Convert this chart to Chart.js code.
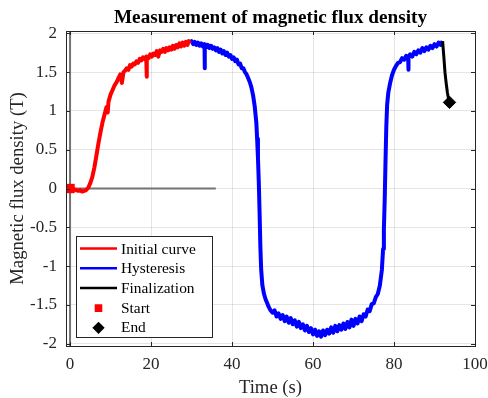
<!DOCTYPE html>
<html><head><meta charset="utf-8">
<script src="https://cdn.jsdelivr.net/npm/chart.js@4.4.1/dist/chart.umd.min.js"></script>
<style>
html,body{margin:0;padding:0;background:#fff;}
#wrap{position:relative;width:488px;height:398px;}
</style></head><body>
<div id="wrap"><canvas id="c"></canvas></div>
<script>
// time (s) / flux density (T)
const initTime = [0,0.5,1,1.5,2,2.5,3,3.5,4,4.5, 5,5.5,6,6.5,7,7.5,8,8.5,9,9.3, 9.5,10,10.5,11,11.5,12,12.4,12.8,13.2,13.6,
  14,14.4,14.8,15.2,15.6,16,16.4,16.8,17.2,17.6, 18,18.4,18.8,18.9,19,19.4,19.8,20.2,20.6,21, 21.4,21.8,22.2,22.6,23,23.4,23.8,24.2,24.6,25,
  25.4,25.8,26.2,26.6,27,27.4,27.8,28.2,28.6,29, 29.3,29.6];
const initFlux = [0,0.01,-0.01,-0.02,-0.03,-0.02,-0.04,-0.03,-0.02,0.01, 0.07,0.15,0.27,0.42,0.58,0.72,0.85,0.95,1.05,0.98, 1.12,1.21,1.27,1.33,1.37,1.43,1.47,1.36,1.50,1.52,
  1.55,1.53,1.59,1.57,1.61,1.60,1.64,1.62,1.67,1.65, 1.69,1.67,1.70,1.44,1.70,1.68,1.73,1.70,1.74,1.72, 1.77,1.70,1.78,1.76,1.80,1.76,1.81,1.78,1.82,1.79,
  1.84,1.80,1.85,1.82,1.87,1.83,1.88,1.84,1.89,1.85, 1.90,1.87];

const hystTime = [
  29.6,30,30.4,30.8,31.2,31.6,32,32.4,32.8,33.2, 33.25,33.3,33.6,34,34.4,34.8,35.2,35.6,36,36.4, 36.8,37.2,37.6,38,38.4,38.8,39.2,39.6,40,40.4, 40.8,41.2,41.6,42,42.4,42.8,43.2,43.6,44,44.4, 44.8,45.2,45.6,
  46,46.2,46.4,46.6,46.8,47,47.2,47.5,47.9,48.3,48.7,49,
  49.5,50,50.5,51,51.5,52,52.5,53,53.5,54, 54.5,55,55.5,56,56.5,57,57.5,58,58.5,59, 59.5,60,60.5,61,61.5,62,62.5,63,63.5,64, 64.5,65,65.5,66,66.5,67,67.5,68,68.5,69, 69.5,70,70.5,71,71.5,72,72.5,73,73.5,74, 74.5,75,75.5,76,76.5,
  77,77.3,77.5,77.7,77.9,78.1,78.3,78.6,79,79.5,80,80.5,
  81,81.5,82,82.5,83,83.5,83.55,83.6,84,84.5, 85,85.5,86,86.5,87,87.5,88,88.5,89,89.5, 90,90.5,91,91.5,92];
const hystFlux = [
  1.88,1.90,1.86,1.89,1.85,1.88,1.84,1.87,1.83,1.86, 1.55,1.85,1.82,1.85,1.81,1.84,1.80,1.82,1.78,1.81, 1.76,1.79,1.74,1.77,1.72,1.75,1.70,1.72,1.67,1.69, 1.64,1.66,1.60,1.61,1.55,1.55,1.50,1.47,1.42,1.37, 1.30,1.20,1.06,
  0.85,0.64,0.40,0.10,-0.30,-0.75,-1.05,-1.25,-1.36,-1.43,-1.48,-1.52,
  -1.57,-1.60,-1.57,-1.65,-1.61,-1.68,-1.63,-1.71,-1.65,-1.73, -1.67,-1.75,-1.70,-1.78,-1.72,-1.80,-1.75,-1.83,-1.77,-1.85, -1.80,-1.88,-1.82,-1.90,-1.84,-1.91,-1.83,-1.89,-1.82,-1.87, -1.79,-1.86,-1.77,-1.84,-1.76,-1.82,-1.74,-1.81,-1.72,-1.79, -1.69,-1.77,-1.68,-1.74,-1.65,-1.71,-1.62,-1.65,-1.56,-1.58, -1.49,-1.48,-1.40,-1.36,-1.25,
  -1.05,-0.78,-0.52,-0.15,0.35,0.80,1.08,1.24,1.35,1.46,1.53,1.58,
  1.62,1.63,1.68,1.66,1.71,1.68,1.53,1.70,1.73,1.70, 1.76,1.73,1.78,1.75,1.81,1.77,1.82,1.79,1.84,1.81, 1.86,1.83,1.88,1.85,1.90];

const finTime = [92,92.3,92.6,92.9,93.2,93.45,93.7];
const finFlux = [1.90,1.70,1.49,1.35,1.23,1.16,1.11];

const startPt = {x:0, y:0};
const endPt = {x:93.7, y:1.11};

// reference lines (zero level and t = 0)
const zeroLineTime = [0,36];
const zeroLineFlux = [0,0];
const tZeroTime = [0,0];
const tZeroFlux = [-2.1,2.1];

const xTicks = [0,20,40,60,80,100];
const yTicks = [-2,-1.5,-1,-0.5,0,0.5,1,1.5,2];
const legendLabels = ['Initial curve','Hysteresis','Finalization','Start','End'];
const titleText = 'Measurement of magnetic flux density';

const SERIF = "'Liberation Serif','Times New Roman',serif";
const INK = '#262626';
const pts = (xs,ys) => xs.map((x,i)=>({x, y:ys[i]}));

const line = (data,color,w,order) => ({data, borderColor:color, backgroundColor:color, borderWidth:w,
  pointRadius:0, tension:0, order, borderJoinStyle:'round'});

// box + inward ticks + title centred on the axes, like matlab
const frame = {
  id:'frame',
  afterDatasetsDraw(chart){
    const {ctx, chartArea:a, scales:{x,y}} = chart;
    ctx.save();
    ctx.strokeStyle = INK; ctx.lineWidth = 1;
    ctx.beginPath();
    xTicks.forEach(v=>{
      const px = Math.round(x.getPixelForValue(v))+0.5;
      ctx.moveTo(px,a.bottom); ctx.lineTo(px,a.bottom-4);
      ctx.moveTo(px,a.top); ctx.lineTo(px,a.top+4);
    });
    yTicks.forEach(v=>{
      const py = Math.round(y.getPixelForValue(v))+0.5;
      ctx.moveTo(a.left,py); ctx.lineTo(a.left+4,py);
      ctx.moveTo(a.right,py); ctx.lineTo(a.right-4,py);
    });
    ctx.stroke();
    ctx.strokeRect(Math.round(a.left)+0.5, Math.round(a.top)+0.5, Math.round(a.right-a.left), Math.round(a.bottom-a.top));
    ctx.fillStyle = '#000';
    ctx.font = `bold 19.2px ${SERIF}`;
    ctx.textAlign = 'center'; ctx.textBaseline = 'alphabetic';
    ctx.fillText(titleText, (a.left+a.right)/2, 22.5);
    ctx.restore();
  }
};

// legend box in lower left corner
const legendBox = {
  id:'legendBox',
  afterDraw(chart){
    const {ctx, chartArea:a} = chart;
    const ds = chart.data.datasets;
    const bx = a.left+10, by = a.top+205, bw = 136, bh = 101;
    ctx.save();
    ctx.fillStyle = '#fff';
    ctx.fillRect(bx,by,bw,bh);
    ctx.strokeStyle = INK; ctx.lineWidth = 1;
    ctx.strokeRect(bx+0.5,by+0.5,bw,bh);
    ctx.font = `15.4px ${SERIF}`;
    ctx.textBaseline = 'middle';
    legendLabels.forEach((lab,i)=>{
      const yy = by+12.5+i*19.7;
      const d = ds[i];
      if(i<3){
        ctx.strokeStyle = d.borderColor; ctx.lineWidth = 2.5;
        ctx.beginPath(); ctx.moveTo(bx+4,yy); ctx.lineTo(bx+41,yy); ctx.stroke();
      } else {
        ctx.fillStyle = d.backgroundColor; ctx.strokeStyle = d.borderColor;
        Chart.helpers.drawPoint(ctx, {pointStyle:d.pointStyle, rotation:0, borderWidth:1, radius: i===3 ? 3.6 : 4.4}, bx+22.5, yy+0.5);
      }
      ctx.fillStyle = '#000';
      ctx.fillText(lab, bx+45, yy+1);
    });
    ctx.restore();
  }
};

new Chart(document.getElementById('c'), {
  type:'line',
  data:{datasets:[
    line(pts(initTime,initFlux),'#ff0000',4,2),
    line(pts(hystTime,hystFlux),'#0000ff',4,2),
    line(pts(finTime,finFlux),'#000000',3,1),
    {data:[startPt], pointStyle:'rect', pointRadius:6.6, backgroundColor:'#ff0000', borderColor:'#ff0000', borderWidth:0, showLine:false, order:0},
    {data:[endPt], pointStyle:'rectRot', pointRadius:6.2, backgroundColor:'#000000', borderColor:'#000000', borderWidth:1, showLine:false, order:0},
    {...line(pts(zeroLineTime,zeroLineFlux),'#747474',2,3)},
    {...line(pts(tZeroTime,tZeroFlux),'#747474',2,3), clip:0},
  ]},
  options:{
    responsive:true, maintainAspectRatio:false, animation:false,
    layout:{padding:{left:0,right:13,top:31,bottom:0}},
    plugins:{legend:{display:false}, tooltip:{enabled:false}},
    scales:{
      x:{type:'linear', min:-1, max:100,
        afterBuildTicks:s=>{s.ticks = xTicks.map(v=>({value:v}));},
        afterFit:s=>{s.height = 52; s.paddingLeft = 0; s.paddingRight = 0;},
        grid:{color:'rgba(38,38,38,0.12)', drawTicks:false},
        border:{display:false},
        ticks:{color:INK, padding:8, maxRotation:0, font:{family:SERIF,size:17}, callback:v=>String(v)},
        title:{display:true, text:'Time (s)', color:INK, font:{family:SERIF,size:18.7}, padding:{top:0,bottom:-1}}
      },
      y:{min:-2.03, max:2.03,
        afterBuildTicks:s=>{s.ticks = yTicks.map(v=>({value:v}));},
        afterFit:s=>{s.width = 66; s.paddingTop = 0; s.paddingBottom = 0;},
        grid:{color:'rgba(38,38,38,0.12)', drawTicks:false},
        border:{display:false},
        ticks:{color:INK, padding:9, font:{family:SERIF,size:17}, callback:v=>String(v)},
        title:{display:true, text:'Magnetic flux density (T)', color:INK, font:{family:SERIF,size:18.7}, padding:{top:7,bottom:0}}
      }
    }
  },
  plugins:[frame, legendBox]
});
</script>
</body></html>
